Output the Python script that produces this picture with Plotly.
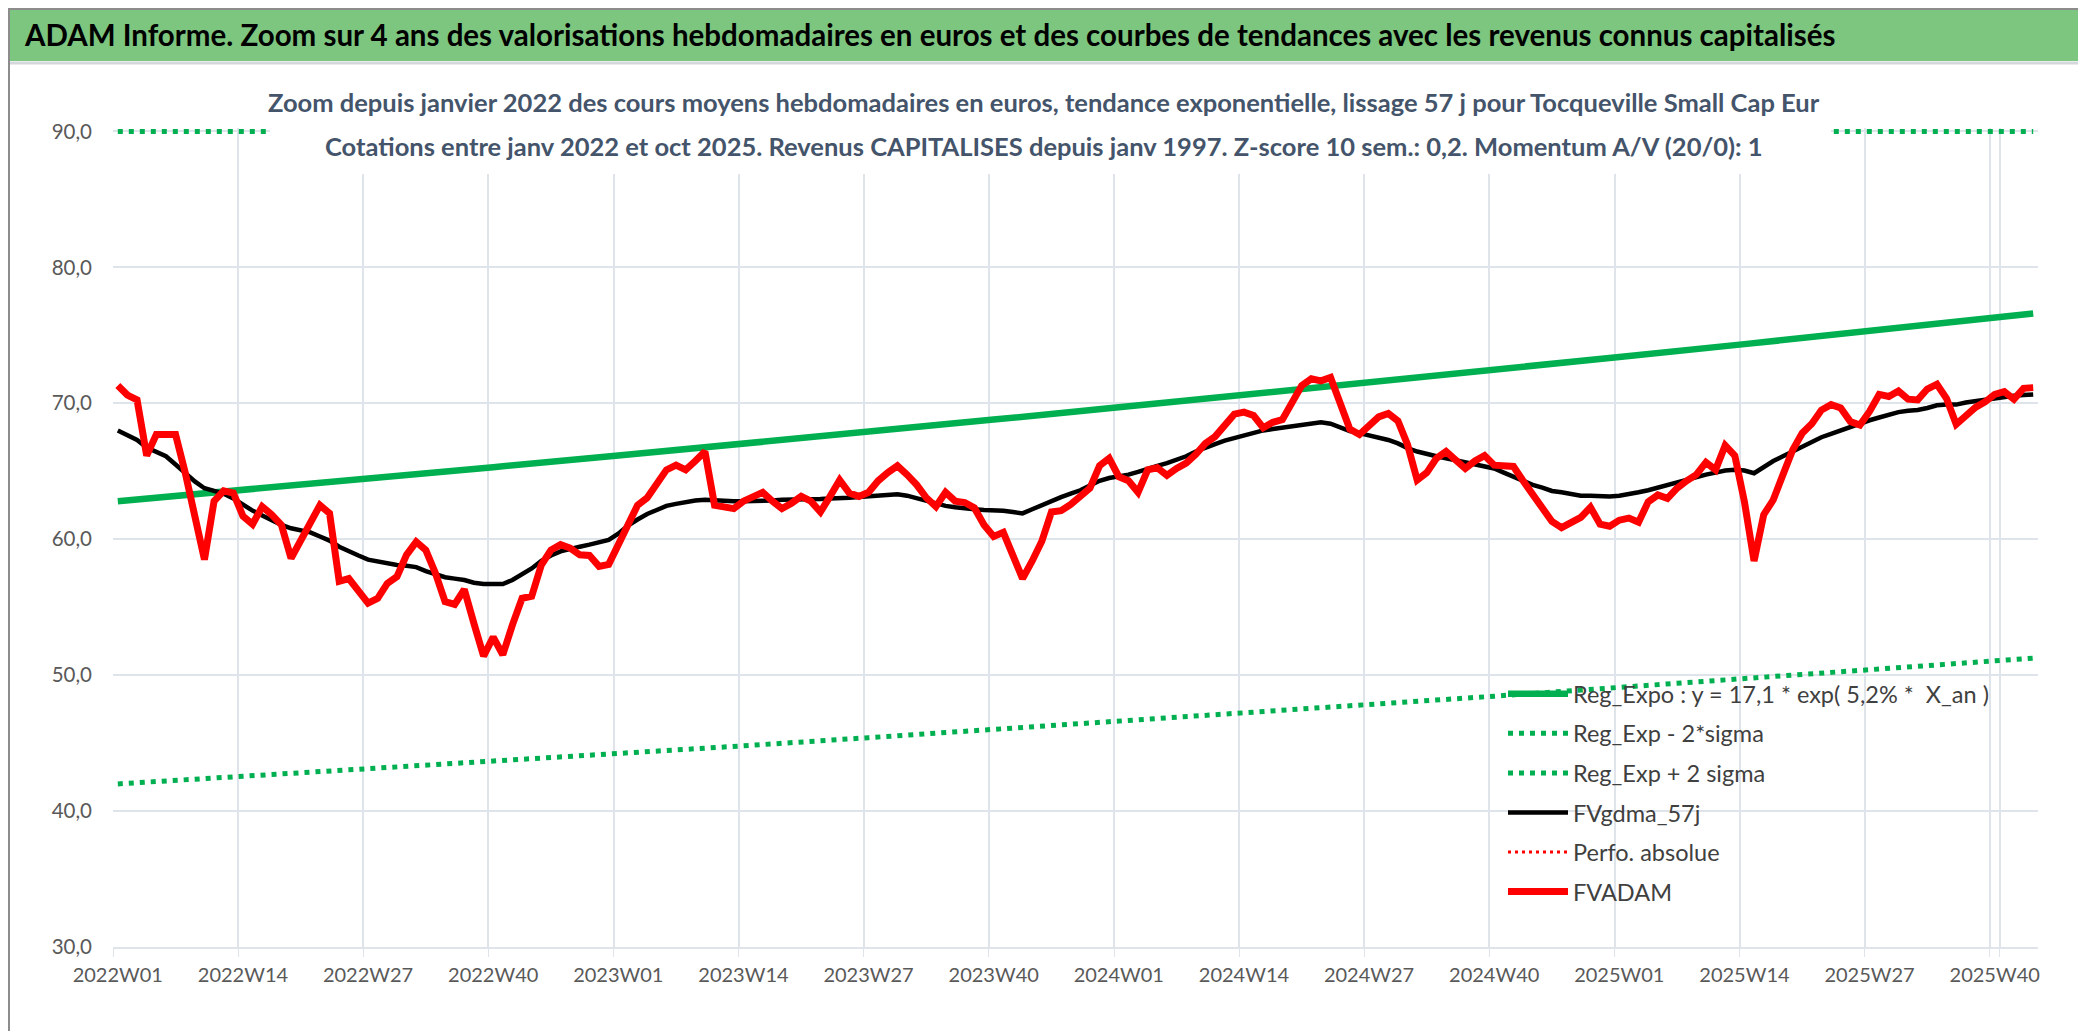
import plotly.graph_objects as go

# weekly categories 2022W01 .. 2025W44
years = [2022, 2023, 2024, 2025]
weeks_per_year = [52, 52, 52, 44]
weeks = [f"{y}W{w:02d}" for y, n in zip(years, weeks_per_year) for w in range(1, n + 1)]
tick_weeks = weeks[::13]

# FVADAM, weekly average valuation (euros)
fvadam = [
    71.3, 70.6, 70.25, 66.15, 67.7, 67.7, 67.7, 64.9, 61.7, 58.5,
    62.8, 63.55, 63.4, 61.7, 61.1, 62.4, 61.8, 61.05, 58.6, 59.95,
    61.3, 62.5, 61.9, 56.9, 57.1, 56.15, 55.3, 55.65, 56.75, 57.25,
    58.85, 59.8, 59.2, 57.5, 55.4, 55.2, 56.3, 53.8, 51.4, 52.8,
    51.5, 53.7, 55.65, 55.8, 58.1, 59.2, 59.6, 59.35, 58.85, 58.8,
    58.0, 58.15, 59.7, 61.15, 62.5, 63.05, 64.1, 65.1, 65.45, 65.1,
    65.75, 66.45, 62.5, 62.4, 62.25, 62.8, 63.15, 63.45, 62.8, 62.25,
    62.65, 63.15, 62.8, 62.0, 63.15, 64.35, 63.4, 63.15, 63.45, 64.3,
    64.9, 65.4, 64.75, 64.0, 63.05, 62.4, 63.45, 62.8, 62.7, 62.3,
    61.05, 60.2, 60.5, 58.85, 57.1, 58.4, 59.85, 62.0, 62.1, 62.55,
    63.1, 63.75, 65.4, 65.95, 64.6, 64.3, 63.45, 65.1, 65.25, 64.7,
    65.2, 65.6, 66.25, 67.05, 67.55, 68.35, 69.2, 69.35, 69.1, 68.2,
    68.6, 68.8, 70.1, 71.3, 71.8, 71.65, 71.9, 70.0, 68.1, 67.7,
    68.4, 69.0, 69.25, 68.7, 66.95, 64.35, 64.9, 65.95, 66.45, 65.85,
    65.2, 65.75, 66.15, 65.45, 65.45, 65.35, 64.3, 63.3, 62.1, 61.3,
    60.85, 61.25, 61.6, 62.35, 61.1, 60.95, 61.4, 61.55, 61.25, 62.75,
    63.25, 63.0, 63.75, 64.3, 64.75, 65.65, 65.1, 66.9, 66.15, 62.75,
    58.4, 61.8, 62.9, 64.75, 66.55, 67.8, 68.5, 69.5, 69.9, 69.65,
    68.65, 68.4, 69.4, 70.65, 70.5, 70.9, 70.3, 70.25, 71.05, 71.4,
    70.35, 68.45, 69.15, 69.7, 70.1, 70.65, 70.85, 70.3, 71.1, 71.15,
]

# FVgdma_57j, smoothed curve
fvgdma = [
    68.0, 67.65, 67.3, 66.75, 66.4, 66.1, 65.5, 64.85, 64.25, 63.75,
    63.55, 63.35, 63.0, 62.5, 62.1, 61.75, 61.4, 61.05, 60.8, 60.65,
    60.5, 60.2, 59.9, 59.45, 59.1, 58.8, 58.5, 58.35, 58.2, 58.1,
    58.05, 57.95, 57.65, 57.4, 57.2, 57.1, 57.0, 56.8, 56.7, 56.7,
    56.7, 57.0, 57.45, 57.85, 58.4, 58.8, 59.1, 59.3, 59.45, 59.6,
    59.8, 59.95, 60.4, 61.0, 61.45, 61.85, 62.15, 62.45, 62.6, 62.75,
    62.85, 62.9, 62.85, 62.8, 62.8, 62.8, 62.8, 62.85, 62.85, 62.9,
    62.9, 62.95, 62.95, 62.95, 63.0, 63.0, 63.05, 63.1, 63.15, 63.2,
    63.25, 63.3, 63.2, 63.0, 62.8, 62.6, 62.45, 62.35, 62.25, 62.2,
    62.15, 62.15, 62.1, 62.0, 61.9, 62.2, 62.5, 62.85, 63.1, 63.35,
    63.6, 63.95, 64.3, 64.5, 64.6, 64.75, 64.95, 65.2, 65.4, 65.6,
    65.85, 66.1, 66.45, 66.75, 67.0, 67.25, 67.45, 67.6, 67.8, 68.0,
    68.1, 68.2, 68.35, 68.45, 68.55, 68.6, 68.5, 68.2, 67.95, 67.8,
    67.65, 67.5, 67.3, 67.05, 66.7, 66.45, 66.25, 66.1, 65.95, 65.8,
    65.6, 65.45, 65.3, 65.2, 64.9, 64.6, 64.3, 64.0, 63.8, 63.55,
    63.45, 63.35, 63.2, 63.2, 63.15, 63.15, 63.2, 63.3, 63.45, 63.6,
    63.8, 64.0, 64.15, 64.35, 64.55, 64.75, 64.9, 65.05, 65.1, 65.05,
    64.85, 65.3, 65.75, 66.1, 66.45, 66.8, 67.2, 67.5, 67.75, 68.0,
    68.3, 68.55, 68.75, 68.95, 69.15, 69.35, 69.45, 69.5, 69.65, 69.85,
    69.9, 69.9, 70.05, 70.15, 70.3, 70.4, 70.45, 70.55, 70.6, 70.65,
]

# regression lines, read at the labelled weeks and the last week
reg_weeks = tick_weeks + [weeks[-1]]
reg_expo = [62.8, 63.6, 64.45, 65.3, 66.15, 67.0, 67.9, 68.8, 69.7, 70.6,
            71.55, 72.45, 73.4, 74.35, 75.35, 76.35, 76.6]
reg_low = [42.0, 42.55, 43.1, 43.7, 44.25, 44.8, 45.4, 46.0, 46.6, 47.2,
           47.85, 48.45, 49.1, 49.75, 50.4, 51.05, 51.25]
# upper band is above the axis max, drawn along the top at 90
reg_high = [90.0, 90.0, 90.0, 90.0, 90.0, 90.0, 90.0, 90.0, 90.0, 90.0,
            90.0, 90.0, 90.0, 90.0, 90.0, 90.0, 90.0]

W, H = 2086, 1031
L, R, T, B = 105, 56, 120, 92
plot_w, plot_h = W - L - R, H - T - B


def px_x(px):
    return (px - L) / plot_w


def px_y(py):
    return (H - B - py) / plot_h


FONT = "Lato, Roboto, sans-serif"
GREEN = "#00B050"
SLATE = "#44546A"
GRID = "#DFE3EA"
DOTS = "5px,6px"

fig = go.Figure()
fig.add_trace(go.Scatter(x=reg_weeks, y=reg_expo, mode="lines", legendgroup="a",
                         name="Reg_Expo : y = 17,1 * exp( 5,2% *  X_an )",
                         line=dict(color=GREEN, width=6.5)))
fig.add_trace(go.Scatter(x=reg_weeks, y=reg_low, mode="lines", name="Reg_Exp - 2*sigma",
                         legendgroup="b", line=dict(color=GREEN, width=5, dash=DOTS)))
fig.add_trace(go.Scatter(x=reg_weeks, y=reg_high, mode="lines", name="Reg_Exp + 2 sigma",
                         legendgroup="c", line=dict(color=GREEN, width=5, dash=DOTS)))
fig.add_trace(go.Scatter(x=weeks, y=fvgdma, mode="lines", name="FVgdma_57j",
                         legendgroup="d", line=dict(color="black", width=4.5)))
fig.add_trace(go.Scatter(x=[None], y=[None], mode="lines", name="Perfo. absolue",
                         legendgroup="e", line=dict(color="#FF0000", width=3, dash="3px,4px")))
fig.add_trace(go.Scatter(x=weeks, y=fvadam, mode="lines", name="FVADAM",
                         legendgroup="f", line=dict(color="#FF0000", width=7)))

fig.update_xaxes(type="category", categoryorder="array", categoryarray=weeks,
                 range=[-0.5, len(weeks) - 0.5], tickmode="array", tickvals=tick_weeks,
                 tickson="boundaries", ticks="outside", ticklen=8, tickcolor=GRID,
                 tickangle=0, ticklabelstandoff=9, automargin=False,
                 showgrid=True, gridcolor=GRID, gridwidth=2, showline=True,
                 linecolor=GRID, linewidth=2, zeroline=False,
                 tickfont=dict(family=FONT, size=20, color="#595959"))
fig.update_yaxes(range=[30, 90.25], tickvals=[30, 40, 50, 60, 70, 80, 90], tickformat=".1f",
                 showgrid=True, gridcolor=GRID, gridwidth=2, zeroline=False,
                 ticks="", ticklabelstandoff=20, automargin=False,
                 tickfont=dict(family=FONT, size=20.5, color="#595959"))

shapes = [
    # green banner
    dict(type="rect", xref="paper", yref="paper", x0=px_x(0), x1=px_x(W),
         y0=px_y(53), y1=px_y(0), fillcolor="#7DC67F", line=dict(width=0)),
    dict(type="line", xref="paper", yref="paper", x0=px_x(0), x1=px_x(W),
         y0=px_y(55), y1=px_y(55), line=dict(color="#D4D7DC", width=3)),
    # white box behind the subtitle
    dict(type="rect", xref="paper", yref="paper", x0=px_x(262), x1=px_x(1823),
         y0=px_y(166), y1=px_y(76), fillcolor="white", line=dict(width=0), layer="above"),
    # outer frame
    dict(type="rect", xref="paper", yref="paper", x0=px_x(1), x1=px_x(W - 2),
         y0=px_y(H - 2), y1=px_y(1), line=dict(color="#8C8C8C", width=2)),
]

annotations = [
    dict(text="<b>ADAM Informe. Zoom sur 4 ans des valorisations hebdomadaires en euros et des courbes de tendances avec les revenus connus capitalisés</b>",
         xref="paper", yref="paper", x=px_x(14), y=px_y(27), xanchor="left", yanchor="middle",
         showarrow=False, font=dict(family=FONT, size=29.5, color="black")),
    dict(text="<b>Zoom depuis janvier 2022 des cours moyens hebdomadaires en euros, tendance exponentielle, lissage 57 j pour Tocqueville Small Cap Eur</b>",
         xref="paper", yref="paper", x=px_x(1036), y=px_y(94), xanchor="center", yanchor="middle",
         showarrow=False, font=dict(family=FONT, size=25.5, color=SLATE)),
    dict(text="<b>Cotations entre janv 2022 et oct 2025. Revenus CAPITALISES depuis janv 1997. Z-score 10 sem.: 0,2. Momentum A/V (20/0): 1</b>",
         xref="paper", yref="paper", x=px_x(1036), y=px_y(138), xanchor="center", yanchor="middle",
         showarrow=False, font=dict(family=FONT, size=25.5, color=SLATE)),
]

fig.update_layout(
    width=W, height=H,
    margin=dict(l=L, r=R, t=T, b=B),
    paper_bgcolor="white", plot_bgcolor="white",
    separators=", ",
    font=dict(family=FONT, color="#595959"),
    shapes=shapes, annotations=annotations,
    legend=dict(x=px_x(1495), y=px_y(664), xanchor="left", yanchor="top",
                bgcolor="rgba(0,0,0,0)", font=dict(family=FONT, size=23.5, color="#404040"),
                itemwidth=60, traceorder="grouped", tracegroupgap=6),
)

fig.write_html("out.html")
